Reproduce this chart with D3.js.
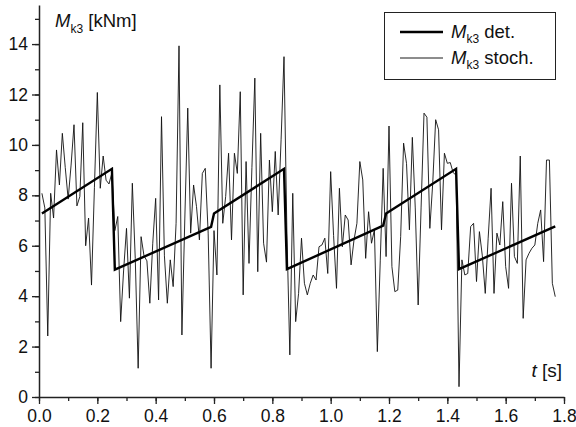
<!DOCTYPE html>
<html>
<head>
<meta charset="utf-8">
<script src="https://cdn.jsdelivr.net/npm/d3@7"></script>
<style>
  body { margin: 0; background: #fff; }
  svg { display: block; font-family: "Liberation Sans", Arial, sans-serif; }
</style>
</head>
<body>
<div id="chart-container"></div>
<script>
// deterministic moment: breakpoints of the sawtooth
const detTimes  = [0.01, 0.25, 0.26, 0.59, 0.60, 0.84, 0.85, 1.18, 1.19, 1.43, 1.44, 1.77];
const detValues = [7.28, 9.05, 5.05, 6.75, 7.28, 9.05, 5.07, 6.80, 7.28, 9.05, 5.07, 6.77];

// stochastic moment, sampled every 0.01 s starting at 0.01 s
const stochStart = 0.01;
const stochStep = 0.01;
const stochValues = [
  8.08, 7.5, 2.42, 8.08, 7.1, 9.8, 8.41, 10.46, 9.1, 7.85,
  9.2, 10.8, 7.58, 7.95, 10.88, 6.0, 7.1, 4.44, 8.3, 12.08,
  8.28, 9.56, 8.6, 8.45, 8.9, 6.6, 7.16, 2.99, 5.0, 6.69,
  3.92, 8.48, 5.5, 1.14, 6.36, 5.6, 5.4, 3.72, 6.1, 7.88,
  3.85, 11.12, 5.6, 3.72, 5.44, 4.38, 6.89, 13.93, 2.46, 7.1,
  11.46, 6.5, 8.41, 7.55, 6.23, 8.87, 9.07, 6.5, 1.14, 6.6,
  4.84, 12.38, 6.89, 7.95, 9.67, 6.23, 9.67, 8.87, 12.11, 4.05,
  9.34, 5.3, 9.1, 12.65, 4.97, 10.46, 6.1, 5.35, 9.4, 7.35,
  9.74, 7.22, 10.2, 13.5, 6.5, 1.67, 8.08, 2.99, 4.11, 6.3,
  4.51, 4.05, 4.51, 4.84, 4.64, 5.96, 6.03, 6.3, 4.9, 8.94,
  6.4, 4.31, 8.28, 5.96, 7.22, 7.02, 5.24, 6.23, 6.89, 9.34,
  8.61, 5.5, 7.35, 6.1, 6.63, 1.8, 5.4, 9.07, 5.57, 10.75,
  5.17, 4.18, 4.24, 6.36, 10.07, 9.27, 6.63, 10.3, 7.5, 3.65,
  7.5, 11.26, 11.1, 6.69, 8.5, 11.0, 10.6, 6.63, 9.67, 9.27,
  9.3, 8.9, 8.8, 0.41, 5.44, 4.84, 4.9, 6.76, 6.89, 4.58,
  6.56, 5.6, 4.11, 6.3, 8.28, 4.11, 6.5, 6.03, 7.75, 5.17,
  4.31, 8.48, 5.57, 5.3, 9.56, 3.12, 5.44, 5.7, 5.9, 6.03,
  6.89, 7.42, 5.37, 9.4, 9.4, 4.51, 3.98
];

const xMajorTicks = [0, 0.2, 0.4, 0.6, 0.8, 1.0, 1.2, 1.4, 1.6, 1.8];
const yMajorTicks = [0, 2, 4, 6, 8, 10, 12, 14];
const xDomain = [0, 1.8];
const yDomain = [0, 15.55];

const margin = { top: 5, right: 12, bottom: 30, left: 39 };
const width = 576 - margin.left - margin.right;
const height = 427 - margin.top - margin.bottom;

const svg = d3.select("#chart-container")
    .append("svg")
    .attr("width", 576)
    .attr("height", 427);

const g = svg.append("g")
    .attr("transform", `translate(${margin.left},${margin.top})`);

const x = d3.scaleLinear().domain(xDomain).range([0, width]);
const y = d3.scaleLinear().domain(yDomain).range([height, 0]);

// minor ticks
const xMinor = d3.range(0, 18.5, 1).map(d => d / 10);
const yMinor = d3.range(0, 16, 1);

g.append("g")
    .attr("transform", `translate(0,${height})`)
    .call(d3.axisBottom(x).tickValues(xMinor).tickSize(4).tickFormat(""))
    .call(a => a.select(".domain").remove());

g.append("g")
    .call(d3.axisLeft(y).tickValues(yMinor).tickSize(4).tickFormat(""))
    .call(a => a.select(".domain").remove());

const xAxis = g.append("g")
    .attr("transform", `translate(0,${height})`)
    .call(d3.axisBottom(x).tickValues(xMajorTicks).tickSize(7).tickSizeOuter(0)
        .tickPadding(6).tickFormat(d3.format(".1f")));

const yAxis = g.append("g")
    .call(d3.axisLeft(y).tickValues(yMajorTicks).tickSize(7).tickSizeOuter(0)
        .tickPadding(4).tickFormat(d3.format("d")));

g.selectAll(".tick line").attr("stroke", "#222").attr("stroke-width", 1.3);
[xAxis, yAxis].forEach(a => {
    a.select(".domain").attr("stroke", "#222").attr("stroke-width", 1.5);
    a.selectAll("text").attr("fill", "#111").style("font-size", "17.5px")
        .style("font-family", "'Liberation Sans', Arial, sans-serif");
});

// lines
const stochData = stochValues.map((v, i) => ({ t: stochStart + i * stochStep, v: v }));
const detData = detTimes.map((t, i) => ({ t: t, v: detValues[i] }));

const line = d3.line().x(d => x(d.t)).y(d => y(d.v));

g.append("path")
    .datum(stochData)
    .attr("fill", "none")
    .attr("stroke", "#111")
    .attr("stroke-width", 0.9)
    .attr("d", line);

g.append("path")
    .datum(detData)
    .attr("fill", "none")
    .attr("stroke", "#000")
    .attr("stroke-width", 2.4)
    .attr("d", line);

// axis titles
const yTitle = svg.append("text")
    .attr("x", 55)
    .attr("y", 27)
    .style("font-size", "18.5px")
    .attr("fill", "#111");
yTitle.append("tspan").style("font-style", "italic").text("M");
yTitle.append("tspan").attr("dy", 6).style("font-size", "12px").text("k3");
yTitle.append("tspan").attr("dy", -6).text(" [kNm]");

const xTitle = svg.append("text")
    .attr("x", 562)
    .attr("y", 377)
    .attr("text-anchor", "end")
    .style("font-size", "19px")
    .attr("fill", "#111");
xTitle.append("tspan").style("font-style", "italic").text("t");
xTitle.append("tspan").text(" [s]");

// legend
const legend = svg.append("g");
legend.append("rect")
    .attr("x", 384.5).attr("y", 12.5)
    .attr("width", 171).attr("height", 67)
    .attr("fill", "#fff")
    .attr("stroke", "#222")
    .attr("stroke-width", 1);

const legendItems = [
    { label: " det.", width: 2.4, y: 32 },
    { label: " stoch.", width: 0.9, y: 58 }
];

legendItems.forEach(item => {
    legend.append("line")
        .attr("x1", 400).attr("x2", 443)
        .attr("y1", item.y).attr("y2", item.y)
        .attr("stroke", "#000")
        .attr("stroke-width", item.width);
    const t = legend.append("text")
        .attr("x", 451)
        .attr("y", item.y + 6)
        .style("font-size", "18.5px")
        .attr("fill", "#111");
    t.append("tspan").style("font-style", "italic").text("M");
    t.append("tspan").attr("dy", 5).style("font-size", "12px").text("k3");
    t.append("tspan").attr("dy", -5).text(item.label);
});
</script>
</body>
</html>
